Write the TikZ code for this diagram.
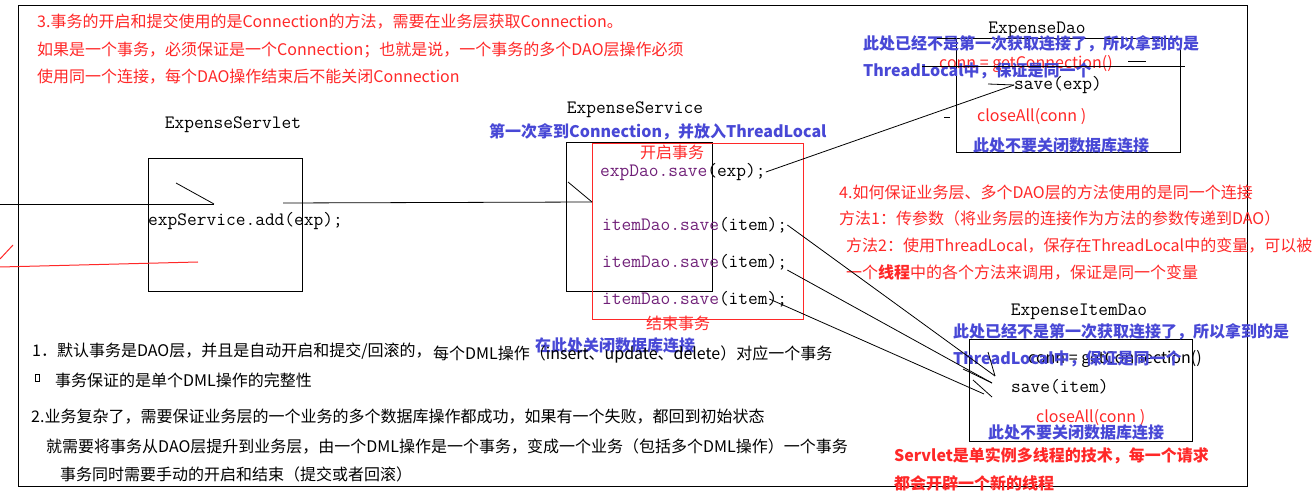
\documentclass[tikz,border=0pt]{standalone}
\usepackage{fontspec}
\setmainfont{Noto Sans CJK SC}
\usepackage{xcolor}
\usetikzlibrary{positioning}
\definecolor{notered}{RGB}{255,40,40}
\definecolor{noteblue}{RGB}{72,72,214}
\definecolor{codepurple}{RGB}{112,32,120}

\begin{document}
\begin{tikzpicture}[x=1pt, y=-1pt,
  txt/.style={inner sep=0pt, anchor=west, font=\fontsize{16}{19}\selectfont},
  redtxt/.style={txt, text=notered},
  bluetxt/.style={txt, text=noteblue, font=\bfseries\fontsize{16}{19}\selectfont},
  code/.style={inner sep=0pt, anchor=west, font=\ttfamily\fontsize{18.9}{20}\selectfont},
  cls/.style={code, anchor=center},
  frame/.style={draw, line width=1.3pt, inner sep=0pt, anchor=north west},
  redframe/.style={frame, draw=notered, line width=1pt},
  wire/.style={line width=0.8pt},
  redwire/.style={line width=1pt, draw=notered}
]
\useasboundingbox (0,0) rectangle (1316,502);
\fill[white] (0,0) rectangle (1316,502);

%% --- frames ---
\node[frame, minimum width=1229pt, minimum height=481pt] (page) at (18,5) {};
\node[frame, minimum width=154pt, minimum height=133pt] (servlet) at (148,158) {};
\node[frame, minimum width=146pt, minimum height=149pt] (service) at (566,142) {};
\node[redframe, minimum width=211pt, minimum height=176pt] (txbox) at (592,143) {};
\node[frame, minimum width=224pt, minimum height=114pt] (edao) at (956,38) {};
\node[frame, minimum width=223pt, minimum height=102pt] (idao) at (969,339) {};

%% --- note 3 (top left) ---
\node[redtxt] (n3a) at (37,22) {3.事务的开启和提交使用的是Connection的方法，需要在业务层获取Connection。};
\node[redtxt] (n3b) at (37,50) {如果是一个事务，必须保证是一个Connection；也就是说，一个事务的多个DAO层操作必须};
\node[redtxt] (n3c) at (37,77) {使用同一个连接，每个DAO操作结束后不能关闭Connection};

%% --- ExpenseServlet ---
\node[cls] (servlettitle) at (233,125) {ExpenseServlet};
\node[code] (add) at (148,221) {expService.add(exp);};

%% --- ExpenseService ---
\node[cls] (servicetitle) at (635,110) {ExpenseService};
\node[bluetxt] (first) at (489,132) {第一次拿到Connection，并放入ThreadLocal};
\node[redtxt, anchor=center] (txbegin) at (672,152) {开启事务};
\node[code] (sv1) at (600,172) {\textcolor{codepurple}{expDao.save}(exp);};
\node[code] (it1) at (602,225) {\textcolor{codepurple}{itemDao.save}(item);};
\node[code] (it2) at (602,262) {\textcolor{codepurple}{itemDao.save}(item);};
\node[code] (it3) at (602,299) {\textcolor{codepurple}{itemDao.save}(item);};
\node[redtxt, anchor=center] (txend) at (678,323) {结束事务};
\node[bluetxt] (closehere) at (535,345) {在此处关闭数据库连接};

%% --- ExpenseDao ---
\node[cls] (edaotitle) at (1037,30) {ExpenseDao};
\node[redtxt] (dconn) at (939,64) {conn = getConnection()};
\node[bluetxt] (dnote1) at (863,44) {此处已经不是第一次获取连接了，所以拿到的是};
\node[bluetxt] (dnote2) at (863,71) {ThreadLocal中，保证是同一个};
\node[code] (dsave) at (1014,85) {save(exp)};
\node[redtxt] (dclose) at (977,117) {closeAll(conn )};
\node[bluetxt] (dkeep) at (973,145) {此处不要关闭数据库连接};

%% --- note 4 ---
\node[redtxt] (n4a) at (839,192) {4.如何保证业务层、多个DAO层的方法使用的是同一个连接};
\node[redtxt] (n4b) at (839,218) {方法1：传参数（将业务层的连接作为方法的参数传递到DAO）};
\node[redtxt] (n4c) at (846,246) {方法2：使用ThreadLocal，保存在ThreadLocal中的变量，可以被};
\node[redtxt] (n4d) at (846,272) {一个{\bfseries 线程}中的各个方法来调用，保证是同一个变量};

%% --- ExpenseItemDao ---
\node[cls] (idaotitle) at (1079,312) {ExpenseItemDao};
\node[txt] (iconn) at (1028,359) {conn = getConnection()};
\node[bluetxt] (inote1) at (953,332) {此处已经不是第一次获取连接了，所以拿到的是};
\node[bluetxt] (inote2) at (953,359) {ThreadLocal中，保证是同一个};
\node[code] (isave) at (1011,387) {save(item)};
\node[redtxt] (iclose) at (1036,418) {closeAll(conn )};
\node[bluetxt] (ikeep) at (988,432) {此处不要关闭数据库连接};
\node[bluetxt, text=notered] (thr1) at (894,456) {Servlet是单实例多线程的技术，每一个请求};
\node[bluetxt, text=notered] (thr2) at (894,483) {都会开辟一个新的线程};

%% --- notes 1 and 2 (bottom) ---
\node[txt] (n1a) at (32,351) {1．默认事务是DAO层，并且是自动开启和提交/回滚的，};
\node[txt] (n1b) at (433,354) {每个DML操作（insert、update、delete）对应一个事务};
\node[draw, line width=0.6pt, inner sep=0pt, minimum width=4pt, minimum height=7pt] (tofu) at (37,377.5) {};
\node[txt] (n1c) at (55,380) {事务保证的是单个DML操作的完整性};
\node[txt] (n2a) at (31,417) {2.业务复杂了，需要保证业务层的一个业务的多个数据库操作都成功，如果有一个失败，都回到初始状态};
\node[txt] (n2b) at (46,447) {就需要将事务从DAO层提升到业务层，由一个DML操作是一个事务，变成一个业务（包括多个DML操作）一个事务};
\node[txt] (n2c) at (60,474) {事务同时需要手动的开启和结束（提交或者回滚）};

%% --- loose ends ---
\coordinate (callin) at (0,204);
\coordinate (srvin) at (214,204);
\coordinate (k1) at (176,183);
\coordinate (srvout) at (283,203);
\coordinate (svcin) at (592,202);
\coordinate (k2) at (568,182);
\coordinate (r0) at (0,267);
\coordinate (r1) at (198,262);
\coordinate (r2) at (0,259);
\coordinate (r3) at (13,245);
\coordinate (dtop) at (937,38);
\coordinate (h0) at (922,66);
\coordinate (h1) at (1185,66);
\coordinate (h2) at (1128,61);
\coordinate (h3) at (1146,61);
\coordinate (dash0) at (944,117);
\coordinate (dash1) at (950,117);
\coordinate (k3) at (988,84);
\coordinate (tip1) at (995,376);
\coordinate (tip2) at (992,383);
\coordinate (tip3) at (984,394);
\coordinate (tip4) at (992,397);
\coordinate (k4) at (988,352);
\coordinate (k5) at (963,369);
\coordinate (k6) at (973,380);

%% --- connectors ---
\draw[wire] (callin) -- (srvin);
\draw[wire] (k1) -- (srvin);
\draw[wire] (srvout) -- (svcin);
\draw[wire] (k2) -- (svcin);
\draw[redwire] (r0) -- (r1);
\draw[redwire] (r2) -- (r3);
\draw[wire] (sv1.east) -- (dsave.west);
\draw[wire] (k3) -- (dsave.west);
\draw[wire] (dtop) -- (edao.north west);
\draw[wire] (h0) -- (h1);
\draw[wire] (h2) -- (h3);
\draw[wire] (dash0) -- (dash1);
\draw[wire] (it1.east) -- (tip1);
\draw[wire] (it2.south east) -- (tip2);
\draw[wire] ([xshift=-18pt]it3.east) -- (tip3);
\draw[wire] (k4) -- (tip1);
\draw[wire] (k5) -- (tip2);
\draw[wire] (k6) -- (tip4);

\end{tikzpicture}
\end{document}
